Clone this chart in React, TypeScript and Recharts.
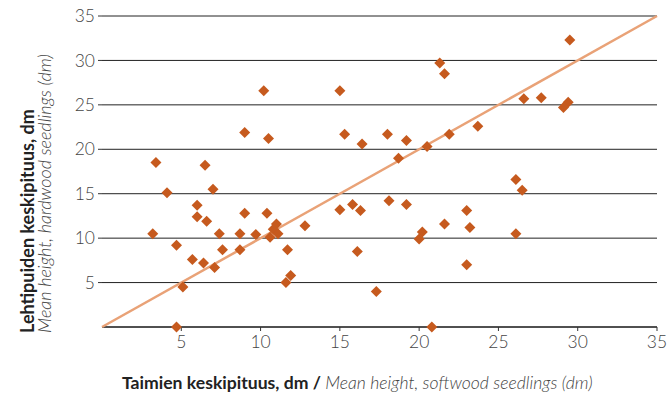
import { ScatterChart, Scatter, XAxis, YAxis, CartesianGrid } from "recharts"

// softwood seedlings mean height (x), hardwood seedlings mean height (y), dm
const softwood = [
  10.2, 9.0, 10.5, 3.4, 6.5, 15.0, 21.3, 21.6, 15.3, 16.4, 18.0, 19.2, 20.5, 21.9, 23.7, 18.7,
  29.5, 26.6, 27.7, 29.4, 29.1, 4.1, 7.0, 6.0, 6.0, 6.6, 9.0, 10.4, 3.2, 7.4, 8.7, 9.7,
  11.0, 10.8, 11.1, 10.6, 4.7, 7.6, 8.7, 11.7, 5.7, 6.4, 7.1, 11.9, 11.6, 5.1, 4.7, 12.8,
  15.0, 15.8, 16.3, 18.1, 19.2, 23.0, 21.6, 23.2, 20.2, 20.0, 16.1, 23.0, 17.3, 20.8, 26.1, 26.5, 26.1,
]
const hardwood = [
  26.6, 21.9, 21.2, 18.5, 18.2, 26.6, 29.7, 28.5, 21.7, 20.6, 21.7, 21.0, 20.3, 21.7, 22.6, 19.0,
  32.3, 25.7, 25.8, 25.3, 24.7, 15.1, 15.5, 13.7, 12.4, 11.9, 12.8, 12.8, 10.5, 10.5, 10.5, 10.4,
  11.6, 11.0, 10.5, 10.1, 9.2, 8.7, 8.7, 8.7, 7.6, 7.2, 6.7, 5.8, 5.0, 4.5, 0, 11.4,
  13.2, 13.8, 13.1, 14.2, 13.8, 13.1, 11.6, 11.2, 10.7, 9.9, 8.5, 7.0, 4.0, 0, 16.6, 15.4, 10.5,
]
const ticks = [5, 10, 15, 20, 25, 30, 35]
const diagonal = [0, 35]

const points = softwood.map((x, i) => ({ x, y: hardwood[i] }))
const lineData = diagonal.map((v) => ({ x: v, y: v }))

const font = "Lato, 'Open Sans', sans-serif"
const tickStyle = { fill: "#444", fontSize: 17.5, fontFamily: font, fontWeight: 300 }

const Diamond = (props: any) => {
  const { cx, cy } = props
  const r = 5.5
  return (
    <polygon
      points={`${cx},${cy - r} ${cx + r},${cy} ${cx},${cy + r} ${cx - r},${cy}`}
      fill="#c65a1e"
    />
  )
}

const XTitle = () => (
  <text x={122} y={389} fontFamily={font} fontSize={17.6}>
    <tspan fontWeight={700} fill="#222">Taimien keskipituus, dm / </tspan>
    <tspan fontStyle="italic" fontWeight={300} fill="#444">Mean height, softwood seedlings (dm)</tspan>
  </text>
)

const YTitle = () => (
  <g fontFamily={font} fontSize={18}>
    <text transform="rotate(-90)" x={-333} y={34} fontWeight={700} fill="#222">
      Lehtipuiden keskipituus, dm
    </text>
    <text transform="rotate(-90)" x={-333} y={51} fontStyle="italic" fontWeight={300} fill="#444">
      Mean height, hardwood seedlings (dm)
    </text>
  </g>
)

export default function App() {
  return (
    <div style={{ position: "absolute", left: 0, top: 0, width: 670, height: 396, background: "#fff" }}>
      <ScatterChart width={670} height={396} margin={{ top: 16, right: 13, left: 0, bottom: 0 }}>
        <CartesianGrid vertical={false} stroke="#222" strokeWidth={1} />
        <XAxis
          type="number"
          dataKey="x"
          domain={[0, 35]}
          ticks={ticks}
          height={69}
          tick={tickStyle}
          tickSize={4}
          tickMargin={5}
          axisLine={{ stroke: "#111" }}
          tickLine={{ stroke: "#333" }}
          label={{ content: () => <XTitle /> }}
        />
        <YAxis
          type="number"
          dataKey="y"
          domain={[0, 35]}
          ticks={ticks}
          width={102}
          tick={tickStyle}
          tickSize={4}
          tickMargin={3}
          axisLine={false}
          tickLine={{ stroke: "#333" }}
          label={{ content: () => <YTitle /> }}
        />
        <Scatter
          data={lineData}
          line={{ stroke: "#e9a277", strokeWidth: 2.5 }}
          shape={() => <g />}
          isAnimationActive={false}
        />
        <Scatter data={points} shape={<Diamond />} isAnimationActive={false} />
      </ScatterChart>
    </div>
  )
}
